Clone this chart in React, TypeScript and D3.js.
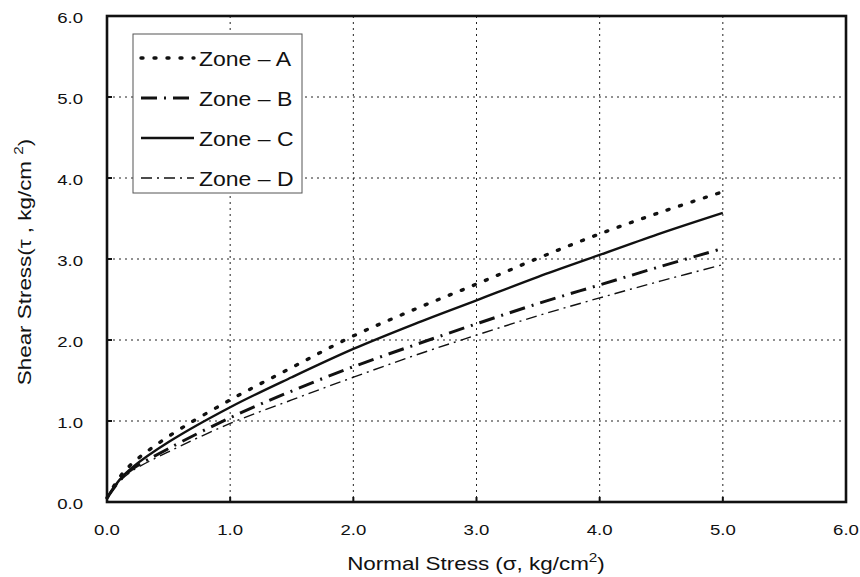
import React from "react";
import * as d3 from "d3";

const xValues = [0, 0.1, 0.2, 0.5, 1.0, 1.5, 2.0, 2.5, 3.0, 3.5, 4.0, 4.5, 5.0];
const zoneA = [0.05, 0.3, 0.47, 0.81, 1.26, 1.66, 2.05, 2.38, 2.69, 3.01, 3.31, 3.58, 3.83];
const zoneB = [0.05, 0.26, 0.4, 0.66, 1.04, 1.37, 1.67, 1.94, 2.2, 2.45, 2.68, 2.91, 3.13];
const zoneC = [0.05, 0.27, 0.42, 0.74, 1.17, 1.54, 1.89, 2.2, 2.49, 2.78, 3.05, 3.32, 3.57];
const zoneD = [0.05, 0.25, 0.38, 0.62, 0.97, 1.26, 1.54, 1.81, 2.06, 2.3, 2.52, 2.73, 2.93];
const seriesNames = ["Zone – A", "Zone – B", "Zone – C", "Zone – D"];
const xTicks = [0, 1, 2, 3, 4, 5, 6];
const yTicks = [0, 1, 2, 3, 4, 5, 6];

const styles = [
  { w: 3.4, dash: "2,11", cap: "round" },
  { w: 3, dash: "16,7,2,7", cap: "butt" },
  { w: 2.4, dash: "", cap: "butt" },
  { w: 1.4, dash: "11,5,2,5", cap: "butt" },
];

export default function App() {
  const W = 860, H = 577;
  const left = 107, right = 846, top = 16, bottom = 502;
  const x = d3.scaleLinear().domain([0, 6]).range([left, right]);
  const y = d3.scaleLinear().domain([0, 6]).range([bottom, top]);
  const series = [zoneA, zoneB, zoneC, zoneD];
  const line = d3
    .line<number>()
    .x((_, i) => x(xValues[i]))
    .y((d) => y(d))
    .curve(d3.curveCatmullRom.alpha(0.5));
  const font = "Liberation Sans, Arial, sans-serif";
  const legendRows = [58, 98, 138, 178];
  const sx = 1.2;
  return (
    <svg width={W} height={H} style={{ position: "absolute", left: 0, top: 0 }}>
      <rect width={W} height={H} fill="#fff" />
      {xTicks.slice(1, -1).map((t) => (
        <line key={"gx" + t} x1={x(t)} x2={x(t)} y1={top} y2={bottom} stroke="#222" strokeWidth={1} strokeDasharray="2,4" />
      ))}
      {yTicks.slice(1, -1).map((t) => (
        <line key={"gy" + t} x1={left} x2={right} y1={y(t)} y2={y(t)} stroke="#222" strokeWidth={1} strokeDasharray="2,4" />
      ))}
      {xTicks.slice(1, -1).map((t) => (
        <line key={"tx" + t} x1={x(t)} x2={x(t)} y1={bottom} y2={bottom - 5} stroke="#111" strokeWidth={2} />
      ))}
      {yTicks.slice(1, -1).map((t) => (
        <line key={"ty" + t} x1={left} x2={left + 5} y1={y(t)} y2={y(t)} stroke="#111" strokeWidth={2} />
      ))}
      {series.map((s, i) => (
        <path
          key={"s" + i}
          d={line(s) || ""}
          fill="none"
          stroke="#111"
          strokeWidth={styles[i].w}
          strokeDasharray={styles[i].dash}
          strokeLinecap={styles[i].cap as any}
        />
      ))}
      <rect x={left} y={top} width={right - left} height={bottom - top} fill="none" stroke="#111" strokeWidth={2.6} />
      <rect x={133} y={34} width={169} height={159} fill="#fff" stroke="#555" strokeWidth={1} />
      {seriesNames.map((n, i) => (
        <g key={"l" + i}>
          <line
            x1={141}
            x2={194}
            y1={legendRows[i]}
            y2={legendRows[i]}
            stroke="#111"
            strokeWidth={styles[i].w}
            strokeDasharray={styles[i].dash}
            strokeLinecap={styles[i].cap as any}
          />
          <g transform={`translate(199,${legendRows[i] + 7.5}) scale(1.15,1)`}>
            <text fontSize={20} fontFamily={font} fill="#111">
              {n}
            </text>
          </g>
        </g>
      ))}
      {xTicks.map((t) => (
        <g key={"xl" + t} transform={`translate(${x(t)},535) scale(${sx},1)`}>
          <text textAnchor="middle" fontSize={15.5} fontFamily={font} fill="#111">
            {t.toFixed(1)}
          </text>
        </g>
      ))}
      {yTicks.map((t) => (
        <g key={"yl" + t} transform={`translate(83,${y(t) + 7}) scale(${sx},1)`}>
          <text textAnchor="end" fontSize={15.5} fontFamily={font} fill="#111">
            {t.toFixed(1)}
          </text>
        </g>
      ))}
      <g transform={`translate(476,570) scale(1.18,1)`}>
        <text textAnchor="middle" fontSize={19} fontFamily={font} fill="#111">
          Normal Stress (σ, kg/cm<tspan dy={-8} fontSize={13}>2</tspan><tspan dy={8}>)</tspan>
        </text>
      </g>
      <g transform={`translate(31,262) rotate(-90) scale(1.18,1)`}>
        <text textAnchor="middle" fontSize={19} fontFamily={font} fill="#111">
          Shear Stress(τ , kg/cm <tspan dy={-8} fontSize={13}>2</tspan><tspan dy={8}>)</tspan>
        </text>
      </g>
    </svg>
  );
}
